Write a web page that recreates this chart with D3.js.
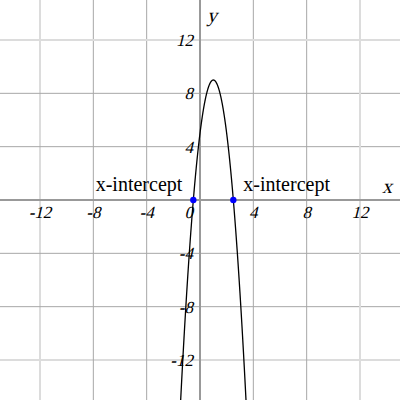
<!DOCTYPE html>
<html><head><meta charset="utf-8">
<script src="https://cdn.jsdelivr.net/npm/d3@7"></script>
<style>body{margin:0;background:#fff}svg{display:block}</style>
</head><body>
<script>
const xDomain = [-15, 15];
const yDomain = [-15, 15];
const gridTicks = [-12, -8, -4, 4, 8, 12];
const xTickLabels = [-12, -8, -4, 4, 8, 12];
const yTickLabels = [12, 8, 4, -4, -8, -12];
const coeffs = [-4, 8, 5]; // y = a x^2 + b x + c
const intercepts = [-0.5, 2.5];
const interceptLabels = ["x-intercept", "x-intercept"];

const W = 400, H = 400;
const svg = d3.select("body").append("svg").attr("width", W).attr("height", H);
const x = d3.scaleLinear().domain(xDomain).range([0, W]);
const y = d3.scaleLinear().domain(yDomain).range([H, 0]);

const g = svg.append("g");
gridTicks.forEach(t => {
  const edge = Math.abs(t) === 12;
  g.append("line").attr("x1", x(t)).attr("x2", x(t)).attr("y1", 0).attr("y2", H)
    .attr("stroke", edge ? "#dcdcdc" : "#a8a8a8").attr("stroke-width", edge ? 2 : 1);
  g.append("line").attr("y1", y(t)).attr("y2", y(t)).attr("x1", 0).attr("x2", W)
    .attr("stroke", edge ? "#dcdcdc" : "#a8a8a8").attr("stroke-width", edge ? 2 : 1);
});
g.append("line").attr("x1", 0).attr("x2", W).attr("y1", y(0)).attr("y2", y(0)).attr("stroke", "#999").attr("stroke-width", 2);
g.append("line").attr("x1", x(0)).attr("x2", x(0)).attr("y1", 0).attr("y2", H).attr("stroke", "#999").attr("stroke-width", 2);

const font = "'Liberation Serif', 'Times New Roman', Times, serif";
const tickSize = 17;
function ital(px, py, txt, anchor, size) {
  g.append("text").attr("transform", `translate(${px},${py}) skewX(-14)`)
    .attr("text-anchor", anchor).attr("font-family", font).attr("font-size", size)
    .attr("fill", "#000").text(txt);
}
xTickLabels.forEach(d => ital(x(d), y(0) + 18, d, "middle", tickSize));
yTickLabels.forEach(d => ital(x(0) - 7, y(d) + 6, d, "end", tickSize));
ital(x(0) - 7, y(0) + 18, "0", "end", tickSize);
ital(x(0) + 12, 22, "y", "middle", 20);
ital(387, 193, "x", "middle", 20);

const f = t => coeffs[0] * t * t + coeffs[1] * t + coeffs[2];
const pts = d3.range(-2, 4.0001, 0.01).map(t => [t, f(t)]);
svg.append("clipPath").attr("id", "c").append("rect").attr("width", W).attr("height", H);
g.append("path").attr("d", d3.line().x(d => x(d[0])).y(d => y(d[1]))(pts))
  .attr("fill", "none").attr("stroke", "#000").attr("stroke-width", 1.3).attr("clip-path", "url(#c)");

g.selectAll(".pt").data(intercepts).enter().append("circle")
  .attr("cx", d => x(d)).attr("cy", y(0)).attr("r", 3.2).attr("fill", "#0000ff");

g.append("text").attr("x", x(intercepts[0]) - 11).attr("y", y(0) - 9).attr("text-anchor", "end")
  .attr("font-family", font).attr("font-size", 20).text(interceptLabels[0]);
g.append("text").attr("x", x(intercepts[1]) + 10).attr("y", y(0) - 9).attr("text-anchor", "start")
  .attr("font-family", font).attr("font-size", 20).text(interceptLabels[1]);
</script>
</body></html>
